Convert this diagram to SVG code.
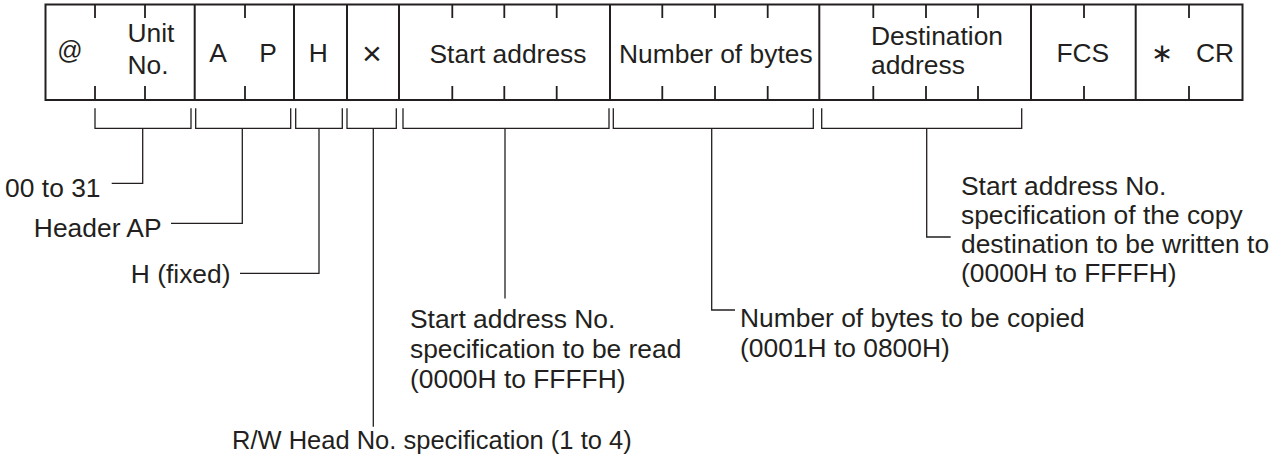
<svg xmlns="http://www.w3.org/2000/svg" width="1282" height="462" viewBox="0 0 1282 462">
<style>
text{font-family:"Liberation Sans",Arial,"DejaVu Sans",sans-serif;font-size:26.4px;fill:#231f20}
.c{text-anchor:middle}
.e{text-anchor:end}
.frame{fill:none;stroke:#231f20;stroke-width:2}
.tick{stroke:#231f20;stroke-width:1.8;fill:none}
.ln{stroke:#231f20;stroke-width:1.3;fill:none}
</style>
<rect width="1282" height="462" fill="#ffffff"/>
<g id="frame">
<rect class="frame" x="45.5" y="4.5" width="1197" height="95.5"/>
<path class="frame" d="M194.7 4.5V100M294 4.5V100M347 4.5V100M399 4.5V100M610 4.5V100M819.3 4.5V100M1031 4.5V100M1135.7 4.5V100"/>
<path class="tick" d="M95 4.5V18M95 86V100M145 4.5V18M145 86V100M245 4.5V18M245 86V100M452.3 4.5V18M452.3 86V100M504.3 4.5V18M504.3 86V100M556.7 4.5V18M556.7 86V100M662.3 4.5V18M662.3 86V100M715 4.5V18M715 86V100M767.7 4.5V18M767.7 86V100M873.3 4.5V18M873.3 86V100M926 4.5V18M926 86V100M978 4.5V18M978 86V100M1084 4.5V18M1084 86V100M1189 4.5V18M1189 86V100"/>
</g>
<g id="n-at"><text class="c" x="70" y="58.5" style="font-size:25px">@</text></g>
<g id="n-unit"><text x="127.5" y="42.3">Unit</text><text x="127.5" y="74">No.</text></g>
<g id="n-ap"><text class="c" x="218" y="62.3">A</text><text class="c" x="268" y="62.3">P</text></g>
<g id="n-h"><text class="c" x="318.3" y="62.3">H</text></g>
<g id="n-x"><text class="c" x="372" y="65" style="font-size:34px">×</text></g>
<g id="n-start"><text class="c" x="508" y="63.3">Start address</text></g>
<g id="n-num"><text class="c" x="715.8" y="63">Number of bytes</text></g>
<g id="n-dest"><text x="871" y="45">Destination</text><text x="871" y="74">address</text></g>
<g id="n-fcs"><text class="c" x="1082.8" y="62">FCS</text></g>
<g id="n-end"><text class="c" x="1162" y="62">∗</text><text class="c" x="1215" y="62">CR</text></g>
<g id="connectors">
<path class="ln" d="M95 108.3V128.3H191V108.3"/>
<path class="ln" d="M195.7 108.3V128.3H290.7V108.3"/>
<path class="ln" d="M295.7 108.3V128.3H342.3V108.3"/>
<path class="ln" d="M347 108.3V128.3H396.3V108.3"/>
<path class="ln" d="M403 108.3V128.3H609V108.3"/>
<path class="ln" d="M613.3 108.3V128.3H813.3V108.3"/>
<path class="ln" d="M821.7 108.3V128.3H1021.7V108.3"/>
<path class="ln" d="M142.7 128.3V183.3H111.7"/>
<path class="ln" d="M242.3 128.3V223.3H171"/>
<path class="ln" d="M319 128.3V273.3H240"/>
<path class="ln" d="M373.3 128.3V426.7"/>
<path class="ln" d="M505 128.3V298.5"/>
<path class="ln" d="M711.7 128.3V310H735"/>
<path class="ln" d="M926.7 128.3V237H950.7"/>
</g>
<g id="l-unit"><text class="e" x="100.5" y="196.7">00 to 31</text></g>
<g id="l-ap"><text class="e" x="161.5" y="236.7">Header AP</text></g>
<g id="l-h"><text class="e" x="230.5" y="282.7">H (fixed)</text></g>
<g id="l-rw"><text x="232" y="449.3" style="font-size:25.5px">R/W Head No. specification (1 to 4)</text></g>
<g id="l-start"><text x="410" y="328.3">Start address No.</text><text x="410" y="358.3">specification to be read</text><text x="410" y="387.5">(0000H to FFFFH)</text></g>
<g id="l-num"><text x="740" y="326.7">Number of bytes to be copied</text><text x="740" y="356.7">(0001H to 0800H)</text></g>
<g id="l-dest"><text x="961" y="194.5">Start address No.</text><text x="961" y="224">specification of the copy</text><text x="961" y="253">destination to be written to</text><text x="961" y="282">(0000H to FFFFH)</text></g>
</svg>
